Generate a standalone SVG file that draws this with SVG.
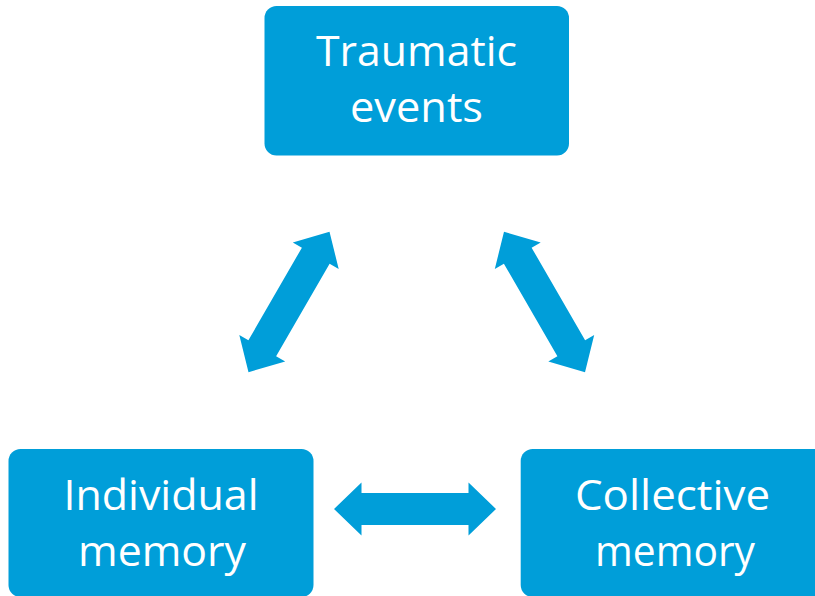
<svg xmlns="http://www.w3.org/2000/svg" width="815" height="596" viewBox="0 0 815 596">
<defs>
<style>
.box{fill:#009ED9;}
.lbl{fill:#FFFFFF;font-family:"Open Sans","Noto Sans","DejaVu Sans",sans-serif;font-size:42px;text-anchor:middle;}
.arr{fill:#009ED9;}
</style>
<polygon id="dblarrow" points="-81,0 -53.5,-26.5 -53.5,-16 53.5,-16 53.5,-26.5 81,0 53.5,26.5 53.5,16 -53.5,16 -53.5,26.5"/>
</defs>
<rect width="815" height="596" fill="#FFFFFF"/>
<g id="traumatic-events">
<rect class="box" x="264.5" y="6" width="304.5" height="149.5" rx="12" ry="12"/>
<text class="lbl" x="416.5" y="65.5" textLength="201" lengthAdjust="spacingAndGlyphs">Traumatic</text>
<text class="lbl" x="416.5" y="121.5" textLength="133" lengthAdjust="spacingAndGlyphs">events</text>
</g>
<g id="individual-memory">
<rect class="box" x="8.5" y="449" width="305" height="148" rx="12" ry="12"/>
<text class="lbl" x="161" y="510" textLength="195" lengthAdjust="spacingAndGlyphs">Individual</text>
<text class="lbl" x="162" y="566" textLength="168" lengthAdjust="spacingAndGlyphs">memory</text>
</g>
<g id="collective-memory">
<rect class="box" x="520.7" y="449" width="306" height="148" rx="12" ry="12"/>
<text class="lbl" x="672.5" y="510" textLength="195" lengthAdjust="spacingAndGlyphs">Collective</text>
<text class="lbl" x="675" y="566" textLength="160" lengthAdjust="spacingAndGlyphs">memory</text>
</g>
<g id="connectors">
<use href="#dblarrow" class="arr" transform="translate(289,302) rotate(-60)"/>
<use href="#dblarrow" class="arr" transform="translate(544.5,302) rotate(60)"/>
<use href="#dblarrow" class="arr" transform="translate(415,509)"/>
</g>
</svg>
